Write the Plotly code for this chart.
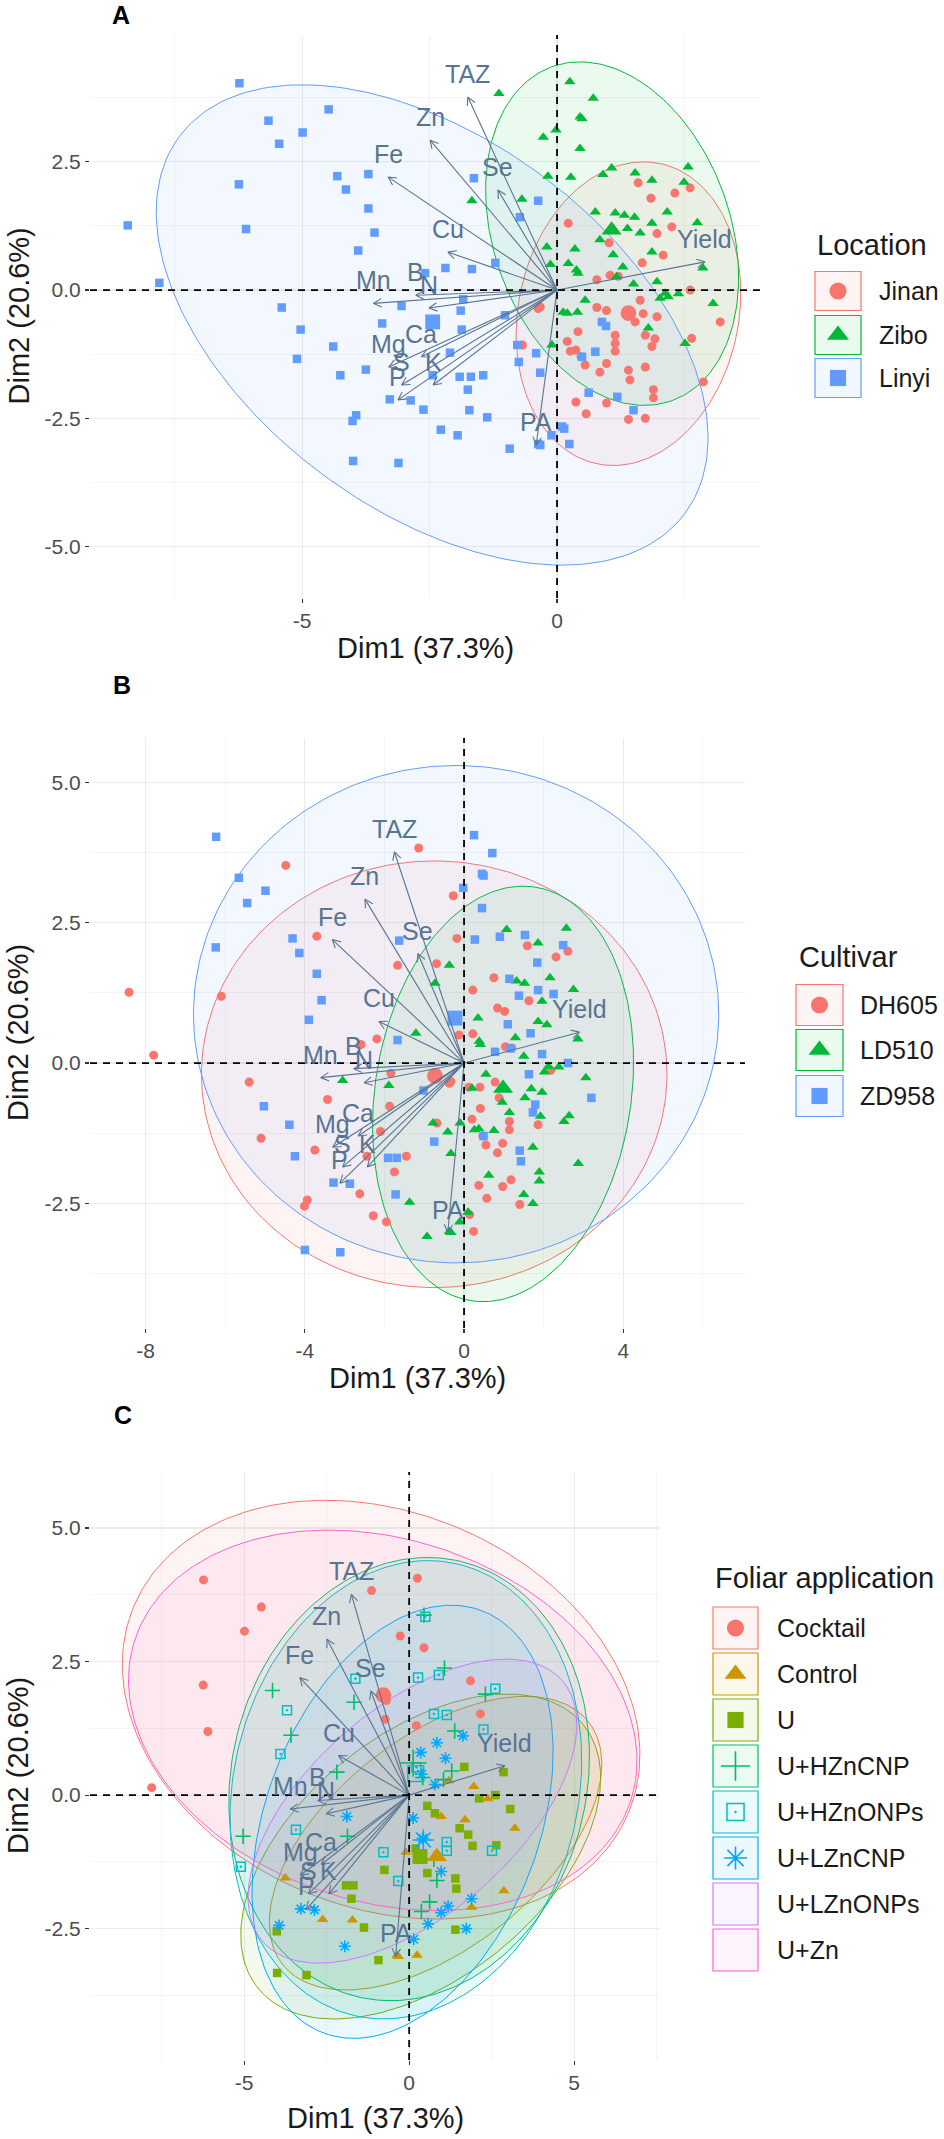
import numpy as np
import plotly.graph_objects as go

FIG_W, FIG_H = 944, 2139
FONT = "Liberation Sans, Arial, sans-serif"

# ---------------- variables (loadings) ----------------
variables = ["TAZ", "Zn", "Fe", "Se", "Cu", "B", "N", "Mn", "Ca", "Mg", "S", "K", "P", "PA", "Yield"]
var_dim1 = [-1.75, -2.49, -3.31, -1.16, -2.14, -2.77, -2.51, -3.60, -2.66, -3.30, -3.05, -2.43, -3.12, -0.41, 2.90]
var_dim2 = [3.76, 2.92, 2.20, 1.95, 0.74, -0.10, -0.35, -0.26, -1.30, -1.50, -1.85, -1.85, -2.14, -3.02, 0.55]

# ---------------- individuals ----------------
linyi_dim1 = [-6.23, -4.48, -5.66, -4.99, -5.45, -4.31, -3.70, -4.14, -6.24, -3.70,
              -3.58, -8.42, -6.10, -3.90, -1.63, -0.37, -0.73, -1.21, -2.19, -1.67,
              -2.59, -7.80, -5.40, -3.05, -1.84, -1.89, -3.43, -5.03, -1.87, -4.39,
              -5.10, -2.10, -3.75, -4.25, -2.44, -1.91, -1.69, -1.45, -0.78, -0.75,
              -0.33, -1.75, -3.28, -2.87, -2.62, -1.72, -3.94, -4.01, -1.37, -2.28,
              -1.95, -0.93, -0.33, -0.11, -4.00, -3.11, -1.02, 0.88, 0.96, -0.41,
              0.49, 0.75, 0.62, 1.18, 1.50, 0.10, 0.14, -0.37, 0.24]
linyi_dim2 = [4.03, 3.52, 3.30, 3.07, 2.85, 2.22, 2.26, 1.96, 2.06, 1.59,
              1.12, 1.26, 1.19, 0.77, 2.18, 1.74, 1.42, 0.53, 0.43, 0.41,
              0.33, 0.14, -0.34, -0.31, -0.18, -0.40, -0.65, -0.77, -0.77, -1.10,
              -1.34, -1.22, -1.55, -1.66, -1.66, -1.69, -1.69, -1.66, -1.07, -1.40,
              -1.61, -1.94, -2.13, -2.15, -2.33, -2.34, -2.44, -2.55, -2.48, -2.72,
              -2.83, -3.09, -3.02, -2.83, -3.33, -3.37, -0.49, -0.62, -0.70, -1.23,
              -1.30, -1.20, -2.00, -2.08, -2.34, -2.66, -2.70, -3.00, -3.00]
linyi_cultivar = "ZDZZZZDZZZ" "ZDDZZLLLDZ" "DDDLDLDZDZ" "DDDZDZZDLZ" "LDZZDZDDLD" "DLLLZZZDLL" "ZLLDLLDLD"
linyi_foliar = ["CK", "CK", "LO", "CK", "ZN", "LO", "ZN", "HC", "CK", "HO",
                "HC", "LO", "CK", "HO", "HO", "ZN", "CK", "LO", "HC", "ZN",
                "LO", "CK", "LO", "ZN", "LO", "LC", "HO", "HC", "HC", "ZN",
                "HO", "LO", "CT", "LO", "ZN", "U", "U", "ZN", "HO", "U",
                "HO", "U", "LC", "LC", "CT", "CT", "LC", "U", "U", "ZN",
                "LC", "U", "CT", "ZN", "U", "U", "LO", "LO", "ZN", "LO",
                "ZN", "HC", "HC", "LC", "ZN", "LO", "LC", "CT", "CT"]

zibo_dim1 = [0.25, -1.14, 0.71, 0.45, 0.49, -0.27, -0.02, 0.45, -0.18, 0.27,
             -1.67, -0.69, 0.75, -0.20, 0.35, -0.13, 0.41, 0.20, 0.40, 1.07,
             0.90, 1.53, 1.86, 2.57, 2.49, 1.14, 1.32, 1.52, 1.38, 1.63,
             2.16, 1.86, 2.75, 0.84, 1.86, 1.10, 1.29, 2.86, 1.96, 1.50,
             2.12, 2.38, 3.06, 0.22, 0.38, 1.17, 0.55, 0.12, 2.02, 2.18,
             1.79, 2.51, -0.10]
zibo_dim2 = [4.06, 3.83, 3.74, 3.37, 3.34, 2.98, 3.12, 2.76, 2.22, 2.20,
             1.74, 1.77, 1.52, 0.84, 0.80, 0.50, 0.33, -0.45, -0.43, 2.38,
             2.25, 2.28, 2.14, 2.40, 2.10, 1.50, 1.46, 1.42, 1.20, 1.11,
             1.52, 1.30, 1.31, 0.98, 0.74, 0.69, 0.45, 0.43, 0.16, 0.12,
             -0.06, -0.07, -0.26, 0.52, 0.39, 0.26, -0.20, -0.43, -0.16, -0.13,
             -0.74, -1.04, -1.07]
zibo_cultivar = "ZDZZZDZZDZ" "DDDZLDLLDL" "ZZLLZZLLZD" "LZLDLZLLZL" "LLLDLZLDLD" "ZLL"
zibo_foliar = ["CK", "CK", "ZN", "HC", "HO", "CK", "LO", "CK", "ZN", "HO",
               "HC", "CK", "HO", "LO", "LC", "ZN", "HC", "ZN", "LO", "HC",
               "HO", "LO", "CK", "ZN", "LO", "HO", "ZN", "LO", "HC", "LC",
               "CK", "ZN", "LO", "LC", "ZN", "LC", "HC", "U", "CT", "LO",
               "U", "CT", "U", "HO", "LC", "ZN", "U", "LC", "ZN", "LO",
               "U", "HO", "CT"]

jinan_dim1 = [0.22, 2.25, 1.96, 2.08, 1.67, 1.04, 1.20, 0.78, 2.61, -0.37,
              0.78, 0.97, 1.63, 1.53, 1.69, 1.96, 3.20, 1.14, 1.73, 1.92,
              0.41, 1.14, 1.86, 0.20, 0.26, 0.47, 1.14, 2.64, 0.55, 0.84,
              0.97, 1.40, 1.73, 1.43, 1.89, 1.89, 0.37, 0.57, 0.97, 1.40,
              1.73, 2.87, -0.68, 0.37, -0.33, 1.59, 2.31, 1.84, 2.61, 1.02]
jinan_dim2 = [1.30, 1.23, 1.10, 0.68, 0.53, 0.29, 0.27, 0.20, 0.00, -0.36,
              -0.34, -0.40, -0.20, -0.62, -0.46, -0.52, -0.62, -0.88, -0.88, -0.95,
              -0.81, -1.04, -1.10, -1.00, -1.19, -1.30, -1.19, -0.94, -1.46, -1.60,
              -1.43, -1.56, -1.50, -1.75, -1.94, -2.10, -2.18, -2.41, -2.20, -2.52,
              -2.50, -1.79, -1.07, -1.17, -0.33, 2.09, 1.89, 1.79, 1.99, 0.92]
jinan_cultivar = "DZLLZDDZZD" "DLZLLLZLZL" "DDDDLDDLDD" "DZLZLLDDDD" "LLDLDDDZDD"
jinan_foliar = ["CK", "HO", "ZN", "LO", "U", "HC", "CT", "LC", "U", "LO",
                "U", "CT", "ZN", "U", "CT", "LO", "CT", "HO", "ZN", "U",
                "LC", "HO", "LO", "U", "CT", "ZN", "LO", "U", "U", "HC",
                "LC", "U", "ZN", "U", "LC", "CT", "HC", "LC", "LC", "U",
                "LC", "CT", "ZN", "LO", "ZN", "ZN", "HC", "LO", "HO", "LO"]

location_names = ["Jinan", "Zibo", "Linyi"]
cultivar_names = ["DH605", "LD510", "ZD958"]
foliar_names = ["Cocktail", "Control", "U", "U+HZnCNP", "U+HZnONPs", "U+LZnCNP", "U+LZnONPs", "U+Zn"]
cultivar_code = {"D": "DH605", "L": "LD510", "Z": "ZD958"}
foliar_code = {"CK": "Cocktail", "CT": "Control", "U": "U", "HC": "U+HZnCNP", "HO": "U+HZnONPs",
               "LC": "U+LZnCNP", "LO": "U+LZnONPs", "ZN": "U+Zn"}

# group mean points
location_mean_dim1 = [1.40, 1.07, -2.44]
location_mean_dim2 = [-0.45, 1.17, -0.62]
cultivar_mean_dim1 = [-0.73, 0.98, -0.23]
cultivar_mean_dim2 = [-0.23, -0.45, 0.80]
foliar_mean_dim1 = [-0.78, 0.84, 0.33, 0.12, 0.20, 0.43, None, None]
foliar_mean_dim2 = [1.87, -1.15, -1.15, 0.60, 0.40, -0.84, None, None]

# concentration ellipses (centre x, centre y, semi-axis a, semi-axis b, angle deg)
location_ellipses = [(1.40, -0.46, 2.99, 2.16, 77.9), (1.08, 1.10, 3.46, 2.32, -70.0), (-2.45, -0.68, 6.17, 3.62, -36.4)]
cultivar_ellipses = [(-0.75, -0.20, 5.85, 3.80, 0.0), (0.98, -0.55, 3.82, 3.14, 64.2), (-0.20, 0.87, 6.60, 4.43, 0.0)]
foliar_ellipses = [(-0.85, 1.60, 7.90, 3.80, -8.0), (0.80, -0.90, 5.30, 2.20, 20.0), (0.35, -1.15, 5.70, 2.55, 19.0),
                   (0.00, 0.30, 5.50, 4.10, 10.0), (-0.10, 0.10, 5.40, 4.20, 15.0), (-0.20, -0.50, 5.00, 3.50, 35.0),
                   (0.10, -0.30, 5.30, 2.20, 22.0), (-0.80, 1.40, 7.75, 3.46, -7.0)]

# ---------------- assemble ----------------
dim1 = linyi_dim1 + zibo_dim1 + jinan_dim1
dim2 = linyi_dim2 + zibo_dim2 + jinan_dim2
location = (["Linyi"] * len(linyi_dim1)) + (["Zibo"] * len(zibo_dim1)) + (["Jinan"] * len(jinan_dim1))
cultivar = [cultivar_code[c] for c in (linyi_cultivar + zibo_cultivar + jinan_cultivar)]
foliar = [foliar_code[c] for c in (linyi_foliar + zibo_foliar + jinan_foliar)]

HUE3 = ["#F8766D", "#00BA38", "#619CFF"]
HUE8 = ["#F8766D", "#CD9600", "#7CAE00", "#00BE67", "#00BFC4", "#00A9FF", "#C77CFF", "#FF61CC"]
VAR_COL = "#587493"
FILL_ALPHA = 0.08


def rgba(hexc, a):
    h = hexc.lstrip("#")
    return "rgba(%d,%d,%d,%.3f)" % (int(h[0:2], 16), int(h[2:4], 16), int(h[4:6], 16), a)


def ellipse_xy(cx, cy, a, b, th):
    t = np.linspace(0, 2 * np.pi, 241)
    c, s = np.cos(np.radians(th)), np.sin(np.radians(th))
    return cx + a * np.cos(t) * c - b * np.sin(t) * s, cy + a * np.cos(t) * s + b * np.sin(t) * c


SYM_SIZE = {"circle": 9, "triangle-up": 10, "square": 8.5, "cross-thin-open": 11,
            "square-open-dot": 9, "asterisk-open": 10}


def marker(sym, color, size):
    if sym in ("cross-thin-open", "asterisk-open"):
        return dict(symbol=sym, size=size, color=color, line=dict(color=color, width=1.6))
    if sym == "square-open-dot":
        return dict(symbol=sym, size=size, color=color, line=dict(color=color, width=1.5))
    return dict(symbol=sym, size=size, color=color, line=dict(width=0))


panels = [
    dict(letter="A", n="", px=(90, 760, 35, 598), xr=(-9.16, 3.98), yr=(-6.0, 4.97),
         xt=[-5, 0], xtt=["-5", "0"], xm=[-7.5, -2.5, 2.5],
         yt=[-5, -2.5, 0, 2.5], ytt=["-5.0", "-2.5", "0.0", "2.5"], ym=[-3.75, -1.25, 1.25, 3.75],
         names=location_names, labels=location, colors=HUE3,
         symbols=["circle", "triangle-up", "square"], ell=location_ellipses,
         mx=location_mean_dim1, my=location_mean_dim2,
         letter_xy=(121, 15), xtitle_y=648,
         leg_title="Location", leg_xy=(815, 245), leg_rows=[291, 335, 378], leg_box=(815, 861, 39), leg_lx=877),
    dict(letter="B", n="2", px=(90, 745, 738, 1328), xr=(-9.4, 7.06), yr=(-4.72, 5.79),
         xt=[-8, -4, 0, 4], xtt=["-8", "-4", "0", "4"], xm=[-6, -2, 2, 6],
         yt=[-2.5, 0, 2.5, 5], ytt=["-2.5", "0.0", "2.5", "5.0"], ym=[-3.75, -1.25, 1.25, 3.75],
         names=cultivar_names, labels=cultivar, colors=HUE3,
         symbols=["circle", "triangle-up", "square"], ell=cultivar_ellipses,
         mx=cultivar_mean_dim1, my=cultivar_mean_dim2,
         letter_xy=(122, 685), xtitle_y=1378,
         leg_title="Cultivar", leg_xy=(797, 957), leg_rows=[1005, 1050, 1096], leg_box=(796, 843, 41), leg_lx=858),
    dict(letter="C", n="3", px=(90, 660, 1472, 2060), xr=(-9.67, 7.6), yr=(-4.96, 6.05),
         xt=[-5, 0, 5], xtt=["-5", "0", "5"], xm=[-7.5, -2.5, 2.5, 7.5],
         yt=[-2.5, 0, 2.5, 5], ytt=["-2.5", "0.0", "2.5", "5.0"], ym=[-3.75, -1.25, 1.25, 3.75],
         names=foliar_names, labels=foliar, colors=HUE8,
         symbols=["circle", "triangle-up", "square", "cross-thin-open", "square-open-dot", "asterisk-open", None, None],
         ell=foliar_ellipses, mx=foliar_mean_dim1, my=foliar_mean_dim2,
         letter_xy=(123, 1415), xtitle_y=2118,
         leg_title="Foliar application", leg_xy=(713, 1578),
         leg_rows=[1628, 1674, 1720, 1766, 1812, 1858, 1904, 1950], leg_box=(713, 758, 42), leg_lx=775),
]

fig = go.Figure()
shapes, annotations = [], []
layout_axes = {}

for p in panels:
    xa, ya = "x" + p["n"], "y" + p["n"]
    l, r, t, b = p["px"]
    sx = (r - l) / (p["xr"][1] - p["xr"][0])
    sy = (b - t) / (p["yr"][1] - p["yr"][0])

    # ellipses
    for gi, g in enumerate(p["names"]):
        ex, ey = ellipse_xy(*p["ell"][gi])
        fig.add_trace(go.Scatter(x=ex, y=ey, mode="lines", fill="toself",
                                 fillcolor=rgba(p["colors"][gi], FILL_ALPHA),
                                 line=dict(color=p["colors"][gi], width=1),
                                 xaxis=xa, yaxis=ya, showlegend=False, hoverinfo="skip"))
    # individuals
    for gi, g in enumerate(p["names"]):
        sym = p["symbols"][gi]
        if sym is None:
            continue
        idx = [i for i, v in enumerate(p["labels"]) if v == g]
        fig.add_trace(go.Scatter(x=[dim1[i] for i in idx], y=[dim2[i] for i in idx], mode="markers",
                                 marker=marker(sym, p["colors"][gi], SYM_SIZE[sym]),
                                 xaxis=xa, yaxis=ya, showlegend=False, hoverinfo="skip"))
    # group means
    for gi, g in enumerate(p["names"]):
        sym = p["symbols"][gi]
        if sym is None or p["mx"][gi] is None:
            continue
        fig.add_trace(go.Scatter(x=[p["mx"][gi]], y=[p["my"][gi]], mode="markers",
                                 marker=marker(sym, p["colors"][gi], SYM_SIZE[sym] * 1.75),
                                 xaxis=xa, yaxis=ya, showlegend=False, hoverinfo="skip"))
    # variable arrows
    ax_, ay_ = [], []
    hl, ang = 9.0, np.radians(28)
    for vx, vy in zip(var_dim1, var_dim2):
        dxp, dyp = vx * sx, vy * sy
        L = np.hypot(dxp, dyp)
        ux, uy = -dxp / L, -dyp / L
        heads = []
        for a in (ang, -ang):
            hx = np.cos(a) * ux - np.sin(a) * uy
            hy = np.sin(a) * ux + np.cos(a) * uy
            heads.append((vx + hx * hl / sx, vy + hy * hl / sy))
        ax_ += [0, vx, None, heads[0][0], vx, heads[1][0], None]
        ay_ += [0, vy, None, heads[0][1], vy, heads[1][1], None]
    fig.add_trace(go.Scatter(x=ax_, y=ay_, mode="lines", line=dict(color=VAR_COL, width=1.1),
                             xaxis=xa, yaxis=ya, showlegend=False, hoverinfo="skip"))
    for name, vx, vy in zip(variables, var_dim1, var_dim2):
        annotations.append(dict(x=vx, y=vy, xref=xa, yref=ya, text=name, showarrow=False,
                                yshift=23, xanchor="center", yanchor="middle",
                                font=dict(family=FONT, size=25, color=VAR_COL)))
    # dashed reference lines
    shapes.append(dict(type="line", xref=xa, yref=ya + " domain", x0=0, x1=0, y0=0, y1=1,
                       line=dict(color="black", width=1.8, dash="7px,6px")))
    shapes.append(dict(type="line", xref=xa + " domain", yref=ya, x0=0, x1=1, y0=0, y1=0,
                       line=dict(color="black", width=1.8, dash="7px,6px")))

    # axes
    common = dict(showgrid=True, gridcolor="#ebebeb", gridwidth=1.2, zeroline=False, showline=False,
                  ticks="outside", ticklen=4, tickwidth=1.2, tickcolor="#333333",
                  tickfont=dict(family=FONT, size=21, color="#4d4d4d"))
    layout_axes["xaxis" + p["n"]] = dict(domain=[l / FIG_W, r / FIG_W], range=list(p["xr"]),
                                         tickmode="array", tickvals=p["xt"], ticktext=p["xtt"], anchor=ya,
                                         minor=dict(tickvals=p["xm"], showgrid=True, gridcolor="#f4f4f4", gridwidth=1),
                                         **common)
    layout_axes["yaxis" + p["n"]] = dict(domain=[1 - b / FIG_H, 1 - t / FIG_H], range=list(p["yr"]),
                                         tickmode="array", tickvals=p["yt"], ticktext=p["ytt"], anchor=xa,
                                         minor=dict(tickvals=p["ym"], showgrid=True, gridcolor="#f4f4f4", gridwidth=1),
                                         **common)

    # titles (pixel coordinates on overlay axes)
    annotations.append(dict(x=(l + r) / 2, y=p["xtitle_y"], xref="x4", yref="y4", text="Dim1 (37.3%)",
                            showarrow=False, xanchor="center", yanchor="middle",
                            font=dict(family=FONT, size=29, color="#1a1a1a")))
    annotations.append(dict(x=18, y=(t + b) / 2, xref="x4", yref="y4", text="Dim2 (20.6%)", textangle=-90,
                            showarrow=False, xanchor="center", yanchor="middle",
                            font=dict(family=FONT, size=29, color="#1a1a1a")))
    annotations.append(dict(x=p["letter_xy"][0], y=p["letter_xy"][1], xref="x4", yref="y4",
                            text="<b>%s</b>" % p["letter"], showarrow=False, xanchor="center", yanchor="middle",
                            font=dict(family=FONT, size=25, color="black")))

    # legend
    annotations.append(dict(x=p["leg_xy"][0], y=p["leg_xy"][1], xref="x4", yref="y4", text=p["leg_title"],
                            showarrow=False, xanchor="left", yanchor="middle",
                            font=dict(family=FONT, size=29, color="#1a1a1a")))
    bx0, bx1, bh = p["leg_box"]
    for gi, g in enumerate(p["names"]):
        cy = p["leg_rows"][gi]
        col = p["colors"][gi]
        shapes.append(dict(type="rect", xref="x4", yref="y4", x0=bx0, x1=bx1, y0=cy - bh / 2, y1=cy + bh / 2,
                           fillcolor=rgba(col, FILL_ALPHA), line=dict(color=col, width=1.2)))
        sym = p["symbols"][gi]
        if sym is not None:
            fig.add_trace(go.Scatter(x=[(bx0 + bx1) / 2], y=[cy], mode="markers",
                                     marker=marker(sym, col, SYM_SIZE[sym] * 1.9),
                                     xaxis="x4", yaxis="y4", showlegend=False, hoverinfo="skip"))
        annotations.append(dict(x=p["leg_lx"], y=cy, xref="x4", yref="y4", text=g, showarrow=False,
                                xanchor="left", yanchor="middle",
                                font=dict(family=FONT, size=25, color="#1a1a1a")))

layout_axes["xaxis4"] = dict(domain=[0, 1], range=[0, FIG_W], visible=False, anchor="y4", fixedrange=True)
layout_axes["yaxis4"] = dict(domain=[0, 1], range=[FIG_H, 0], visible=False, anchor="x4", fixedrange=True)

fig.update_layout(width=FIG_W, height=FIG_H, margin=dict(l=0, r=0, t=0, b=0),
                  paper_bgcolor="white", plot_bgcolor="rgba(0,0,0,0)",
                  showlegend=False, shapes=shapes, annotations=annotations,
                  font=dict(family=FONT), **layout_axes)

fig.write_html("out.html", config={"displayModeBar": False, "staticPlot": True},
               post_script="document.body.style.margin='0px';document.body.style.overflow='hidden';")
